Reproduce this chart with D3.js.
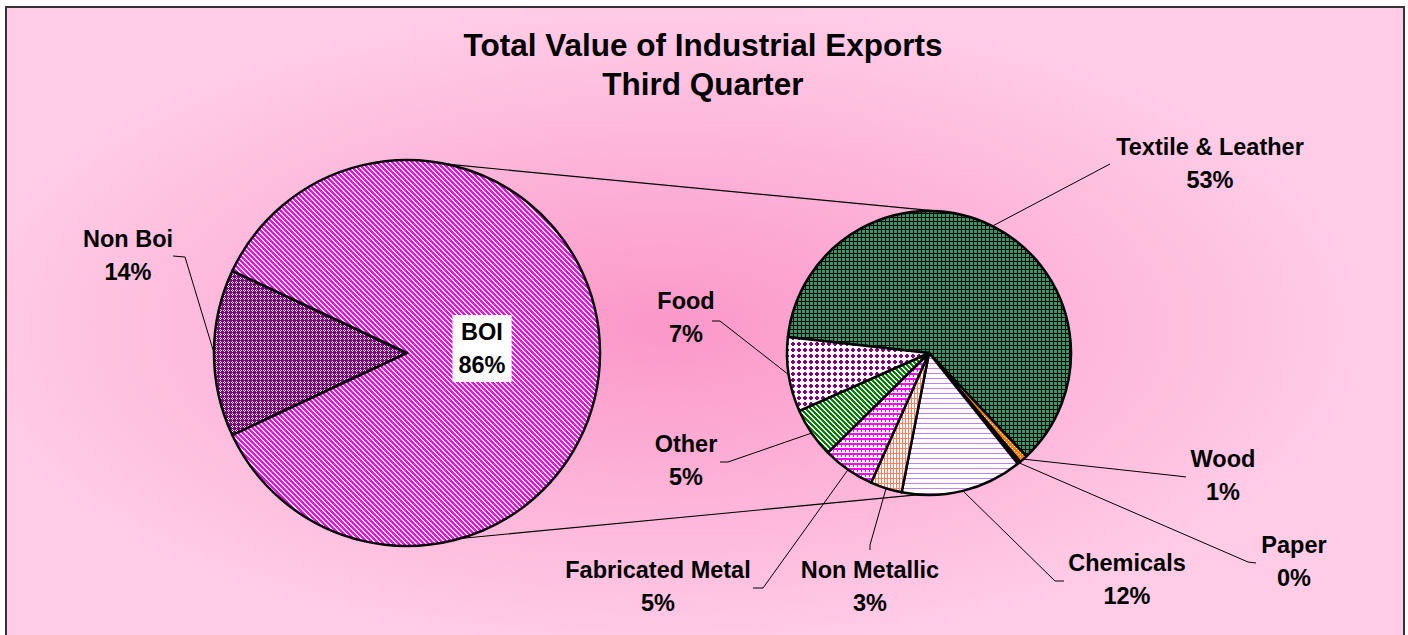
<!DOCTYPE html>
<html>
<head>
<meta charset="utf-8">
<script src="https://cdn.jsdelivr.net/npm/d3@7"></script>
<style>
body { margin:0; background:#fff; }
text { font-family:"Liberation Sans", Arial, sans-serif; font-weight:bold; fill:#000; }
</style>
</head>
<body>
<svg></svg>
<script>
// first pie
var mainNames = ["Non Boi", "BOI"]
var mainValues = [14, 86]
// BOI split out in the second pie (values are % of all exports)
var subNames = ["Textile & Leather", "Wood", "Paper", "Chemicals", "Non Metallic", "Fabricated Metal", "Other", "Food"]
var subValues = [52.6, 0.8, 0.3, 11.9, 3.1, 5.1, 4.9, 7.3]
var titleLines = ["Total Value of Industrial Exports", "Third Quarter"]

//so changes can be made easily
var screen = {width:1408, height:635}
var big = {cx:407, cy:353, r:193, start:244.8}
var small = {cx:929, cy:353, r:142, start:-83.5}
var join = {bigTop:12, bigBottom:164, smallTop:4.5, smallBottom:184}

// where labels sit and the elbow of their leader line
var labelPos = {
    "Non Boi": {x:128, y:247, lead:[[173,256],[185,257]]},
    "BOI": {x:482, y:340, box:true},
    "Textile & Leather": {x:1210, y:155, lead:[[1110,164]]},
    "Food": {x:686, y:309, lead:[[712,321],[720,321]]},
    "Other": {x:686, y:452, lead:[[720,462],[728,462]]},
    "Fabricated Metal": {x:658, y:578, lead:[[753,588],[763,588]]},
    "Non Metallic": {x:870, y:578, lead:[[870,550],[870,545]]},
    "Chemicals": {x:1127, y:571, lead:[[1064,581],[1055,581]]},
    "Wood": {x:1223, y:467, lead:[[1186,477],[1178,476]]},
    "Paper": {x:1294, y:553, lead:[[1256,563],[1248,562]]}
}

// excel style fill patterns, 1 = foreground pixel
var patterns = {
    "BOI": {bg:"#fff", fg:"#ff00ff", rows:["11100","01110","00111","10011","11001"]},
    "Non Boi": {bg:"#fff", fg:"#800080", rows:["1011","0101","1011","1111"]},
    "Textile & Leather": {bg:"#339966", fg:"#000", rows:["1111","1000","1000","1000"]},
    "Wood": {bg:"#ff8000", fg:"#fff", rows:["0000","0100","0000","0001"]},
    "Paper": {bg:"#800080", fg:"#fff", rows:["0000","0100","0000","0001"]},
    "Chemicals": {bg:"#fff", fg:"#c080ff", rows:["1111","0000","0000","0000","0000"]},
    "Non Metallic": {bg:"#fff", fg:"#ff8060", rows:["111","100","100","100","100"]},
    "Fabricated Metal": {bg:"#fff", fg:"#ff00ff", rows:["11111111","11111111","10001000","10001000","00000000"]},
    "Other": {bg:"#fff", fg:"#008000", rows:["11100","01110","00111","10011","11001"]},
    "Food": {bg:"#fff", fg:"#800080", rows:["000000","011000","111100","111100","011000","000000"]}
}

var rad = Math.PI / 180

var pointAt = function(pie, deg, r)
{
    return [pie.cx + r * Math.sin(deg * rad), pie.cy - r * Math.cos(deg * rad)]
}

var svg = d3.select("svg")
    .attr("width", screen.width)
    .attr("height", screen.height)

var defs = svg.append("defs")

var grad = defs.append("radialGradient")
    .attr("id", "bg")
    .attr("cx", 0.47).attr("cy", 0.5).attr("r", 0.5)
grad.append("stop").attr("offset", "0%").attr("stop-color", "#fb98c9")
grad.append("stop").attr("offset", "100%").attr("stop-color", "#ffcce6")

Object.keys(patterns).forEach(function(name, i)
{
    var pt = patterns[name]
    var h = pt.rows.length, w = pt.rows[0].length
    var p = defs.append("pattern")
        .attr("id", "pat" + i)
        .attr("patternUnits", "userSpaceOnUse")
        .attr("width", w).attr("height", h)
    p.append("rect").attr("width", w).attr("height", h).attr("fill", pt.bg)
    pt.rows.forEach(function(row, y)
    {
        row.split("").forEach(function(c, x)
        {
            if (c == "1")
                p.append("rect").attr("x", x).attr("y", y).attr("width", 1).attr("height", 1)
                    .attr("fill", pt.fg).attr("shape-rendering", "crispEdges")
        })
    })
    pt.id = "pat" + i
})

// chart area
svg.append("rect")
    .attr("x", 6).attr("y", 7)
    .attr("width", 1398).attr("height", 640)
    .attr("fill", "url(#bg)")
    .attr("stroke", "#333")
    .attr("stroke-width", 2)

// lines joining the two pies
var lines = [
    [pointAt(big, join.bigTop, big.r), pointAt(small, join.smallTop, small.r)],
    [pointAt(big, join.bigBottom, big.r), pointAt(small, join.smallBottom, small.r)]
]
svg.selectAll(".join")
    .data(lines)
    .enter()
    .append("path")
    .attr("class", "join")
    .attr("d", d3.line())
    .attr("fill", "none")
    .attr("stroke", "#000")
    .attr("stroke-width", 1.2)

var drawPie = function(pie, names, values)
{
    var slices = d3.pie()
        .sort(null)
        .startAngle(pie.start * rad)
        .endAngle(pie.start * rad + 2 * Math.PI)(values)

    var arc = d3.arc().innerRadius(0).outerRadius(pie.r)

    var g = svg.append("g")
        .attr("transform", "translate(" + pie.cx + ", " + pie.cy + ")")

    g.selectAll("path")
        .data(slices)
        .enter()
        .append("path")
        .attr("d", arc)
        .attr("fill", function(d, i) { return "url(#" + patterns[names[i]].id + ")" })
        .attr("stroke", "#000")
        .attr("stroke-width", 2.5)
        .attr("stroke-linejoin", "round")

    slices.forEach(function(d, i)
    {
        var name = names[i]
        var lp = labelPos[name]
        var pct = Math.round(values[i]) + "%"
        if (lp.lead)
        {
            var mid = (d.startAngle + d.endAngle) / 2 / rad
            var pts = lp.lead.concat([pointAt(pie, mid, pie.r)])
            svg.append("path")
                .attr("d", d3.line()(pts))
                .attr("fill", "none")
                .attr("stroke", "#000")
                .attr("stroke-width", 1)
        }
        var t = svg.append("text")
            .attr("x", lp.x)
            .attr("y", lp.y)
            .style("text-anchor", "middle")
            .style("font-size", "23.5px")
        t.append("tspan").attr("x", lp.x).text(name)
        t.append("tspan").attr("x", lp.x).attr("dy", 33).text(pct)
        if (lp.box)
        {
            var bb = t.node().getBBox()
            svg.insert("rect", function() { return t.node() })
                .attr("x", bb.x - 6).attr("y", bb.y - 4)
                .attr("width", bb.width + 12).attr("height", bb.height + 8)
                .attr("fill", "#fff")
        }
    })
}

drawPie(big, mainNames, mainValues)
drawPie(small, subNames, subValues)

svg.append("text")
    .style("text-anchor", "middle")
    .style("font-size", "31.5px")
    .selectAll("tspan")
    .data(titleLines)
    .enter()
    .append("tspan")
    .attr("x", 703)
    .attr("y", function(d, i) { return 56 + i * 39 })
    .text(function(d) { return d })
</script>
</body>
</html>
